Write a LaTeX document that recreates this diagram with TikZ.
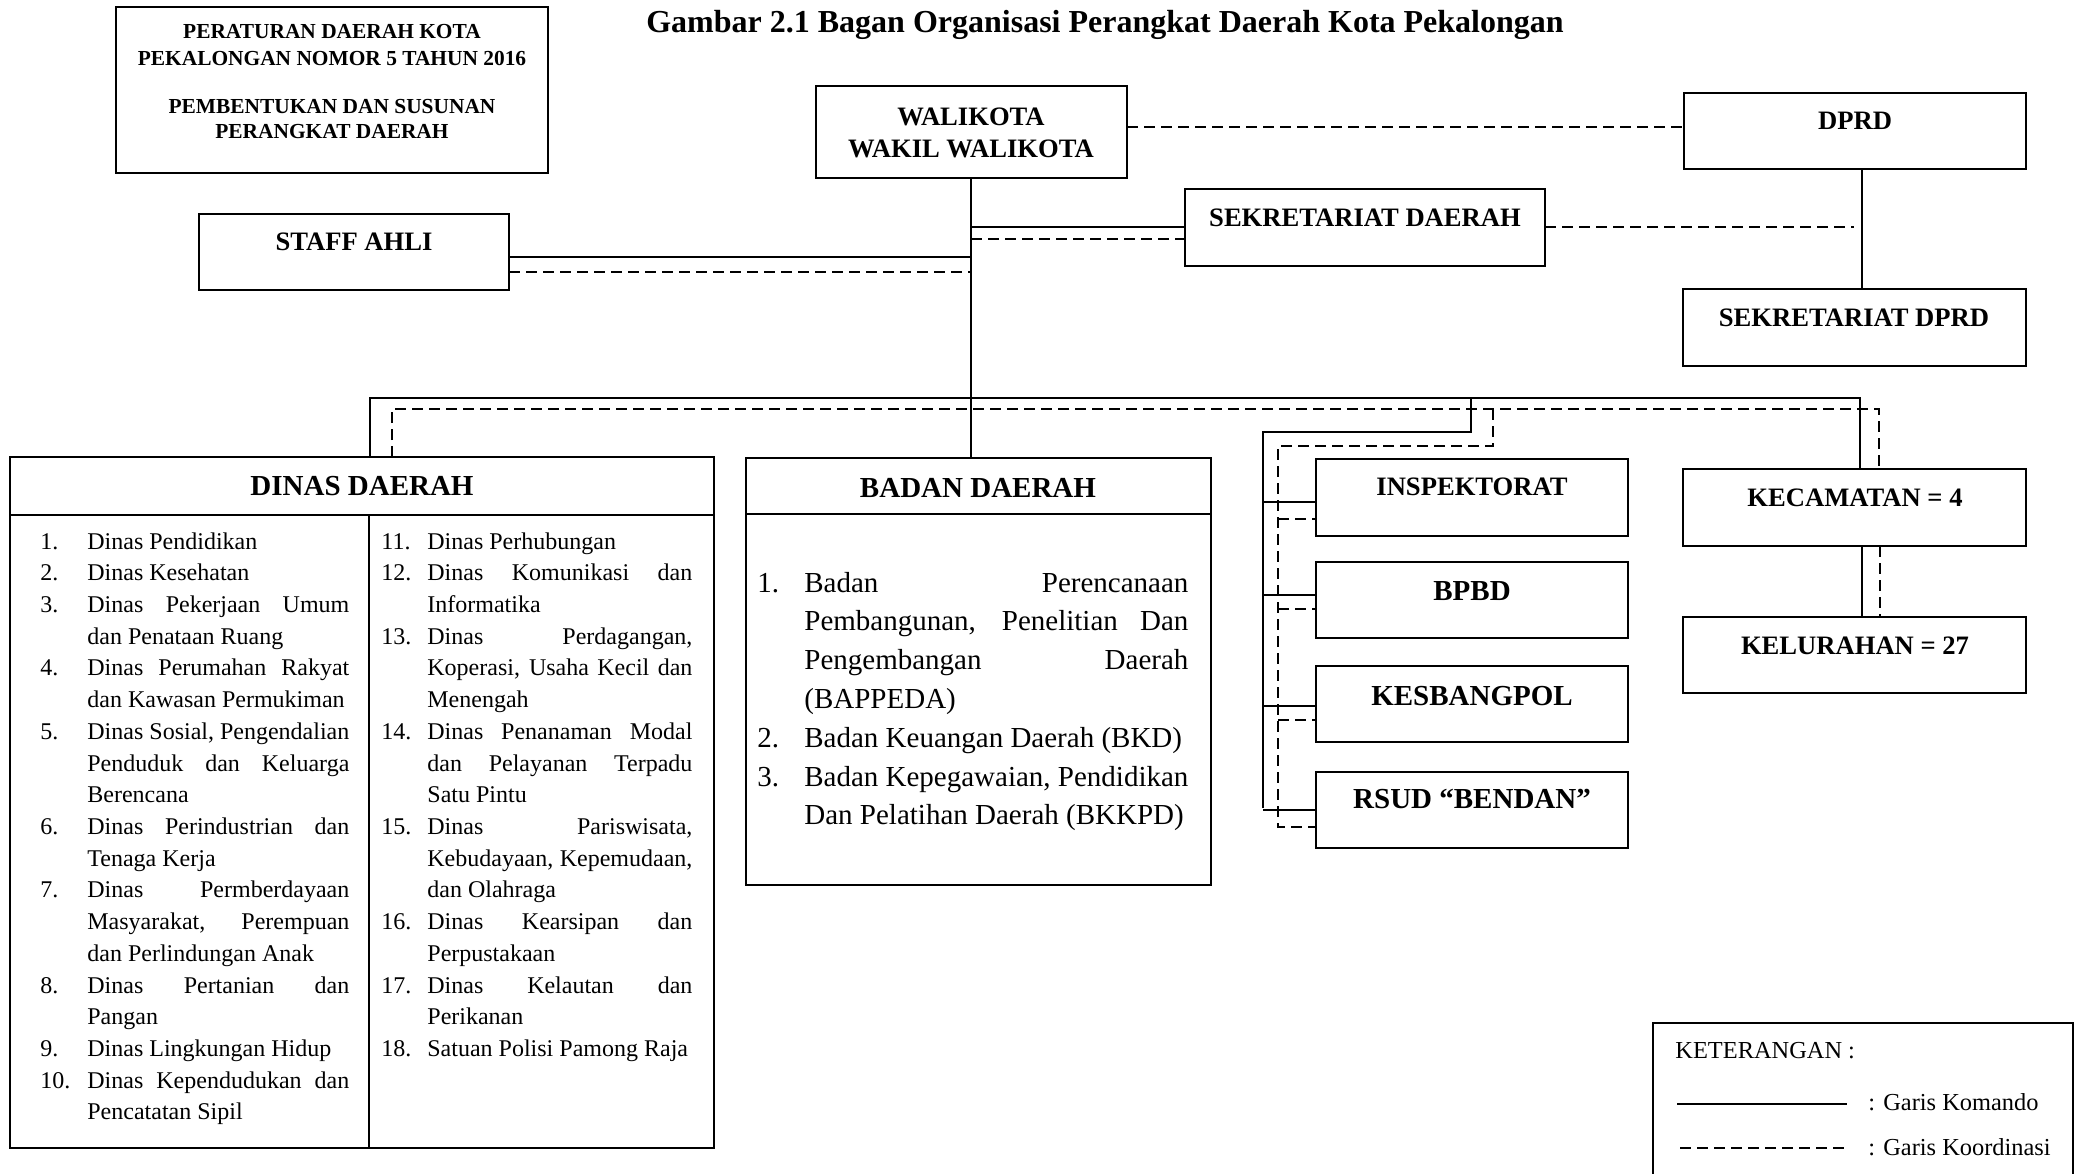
\documentclass[tikz,border=0pt]{standalone}
\usepackage{fontspec}
\setmainfont{Liberation Serif}
\usetikzlibrary{fit}
\tikzset{
  box/.style={draw, line width=1pt, inner sep=0pt, outer sep=0pt},
  boxline/.style={line width=1pt},
  cline/.style={line width=0.9pt},
  dline/.style={line width=0.9pt, dash pattern=on 5.5pt off 3pt},
  txt/.style={inner sep=0pt, anchor=base},
  fsmall/.style={font=\fontsize{10.7pt}{12pt}\selectfont\bfseries},
  fmid/.style={font=\fontsize{13.3pt}{15pt}\selectfont\bfseries},
  fbig/.style={font=\fontsize{14.5pt}{17pt}\selectfont\bfseries},
  ftitle/.style={font=\fontsize{16pt}{19pt}\selectfont\bfseries},
  flist/.style={font=\fontsize{12pt}{14pt}\selectfont},
  fbadan/.style={font=\fontsize{14.5pt}{17pt}\selectfont},
  fleg/.style={font=\fontsize{12.2pt}{14pt}\selectfont}
}
\newcommand\mkbox[5]{\node[box, fit={(#2,#3) (#4,#5)}] (#1) {};}
\begin{document}
\begin{tikzpicture}[x=0.5pt,y=-0.5pt]
\useasboundingbox (0,0) rectangle (2075,1173);

% title
\node[txt, ftitle] (title) at (1105,32) {Gambar 2.1 Bagan Organisasi Perangkat Daerah Kota Pekalongan};

% boxes
\mkbox{perda}{116}{7}{548}{173}
\mkbox{wali}{816}{86}{1127}{178}
\mkbox{dprd}{1684}{93}{2026}{169}
\mkbox{sekda}{1185}{189}{1545}{266}
\mkbox{sekdprd}{1683}{289}{2026}{366}
\mkbox{staff}{199}{214}{509}{290}
\mkbox{dinas}{10}{457}{714}{1148}
\mkbox{badan}{746}{458}{1211}{885}
\mkbox{insp}{1316}{459}{1628}{536}
\mkbox{bpbd}{1316}{562}{1628}{638}
\mkbox{kesb}{1316}{666}{1628}{742}
\mkbox{rsud}{1316}{772}{1628}{848}
\mkbox{kec}{1683}{469}{2026}{546}
\mkbox{kel}{1683}{617}{2026}{693}
\mkbox{leg}{1653}{1023}{2073}{1195}

% header lines and divider
\draw[boxline] (dinas.west |- 0,515) -- (dinas.east |- 0,515);
\draw[boxline] (369,515) -- (dinas.south -| 369,0);
\draw[boxline] (badan.west |- 0,514) -- (badan.east |- 0,514);

% box texts
\node[txt, fsmall] (p1) at (332,38) {PERATURAN DAERAH KOTA};
\node[txt, fsmall] (p2) at (332,65) {PEKALONGAN NOMOR 5 TAHUN 2016};
\node[txt, fsmall] (p3) at (332,113) {PEMBENTUKAN DAN SUSUNAN};
\node[txt, fsmall] (p4) at (332,138) {PERANGKAT DAERAH};
\node[txt, fmid] (w1) at (971,125) {WALIKOTA};
\node[txt, fmid] (w2) at (971,157) {WAKIL WALIKOTA};
\node[txt, fmid] (tdprd) at (1855,129) {DPRD};
\node[txt, fmid] (tsekda) at (1365,226) {SEKRETARIAT DAERAH};
\node[txt, fmid] (tsekdprd) at (1854,326) {SEKRETARIAT DPRD};
\node[txt, fmid] (tstaff) at (354,250) {STAFF AHLI};
\node[txt, fmid] (tinsp) at (1472,495) {INSPEKTORAT};
\node[txt, fbig] (tbpbd) at (1472,600) {BPBD};
\node[txt, fbig] (tkesb) at (1472,705) {KESBANGPOL};
\node[txt, fbig] (trsud) at (1472,808) {RSUD “BENDAN”};
\node[txt, fmid] (tkec) at (1855,506) {KECAMATAN = 4};
\node[txt, fmid] (tkel) at (1855,654) {KELURAHAN = 27};
\node[txt, fbig] (tdinas) at (362,495) {DINAS DAERAH};
\node[txt, fbig] (tbadan) at (978,497) {BADAN DAERAH};

% dinas list left
\foreach \xn/\xt/\xj [count=\i] in {
 1./Dinas Pendidikan/l,
 2./Dinas Kesehatan/l,
 3./Dinas Pekerjaan Umum/s,
 {}/dan Penataan Ruang/l,
 4./Dinas Perumahan Rakyat/s,
 {}/dan Kawasan Permukiman/l,
 5./{Dinas Sosial, Pengendalian}/s,
 {}/Penduduk dan Keluarga/s,
 {}/Berencana/l,
 6./Dinas Perindustrian dan/s,
 {}/Tenaga Kerja/l,
 7./Dinas Permberdayaan/s,
 {}/{Masyarakat, Perempuan}/s,
 {}/dan Perlindungan Anak/l,
 8./Dinas Pertanian dan/s,
 {}/Pangan/l,
 9./Dinas Lingkungan Hidup/l,
 10./Dinas Kependudukan dan/s,
 {}/Pencatatan Sipil/l}
{
 \node[txt, anchor=base west, flist] (dl\i) at (40,{549+(\i-1)*31.72})
   {\makebox[23.5pt][l]{\xn}\makebox[131pt][\xj]{\xt}};
}

% dinas list right
\foreach \xn/\xt/\xj [count=\i] in {
 11./Dinas Perhubungan/l,
 12./Dinas Komunikasi dan/s,
 {}/Informatika/l,
 13./{Dinas Perdagangan,}/s,
 {}/{Koperasi, Usaha Kecil dan}/s,
 {}/Menengah/l,
 14./Dinas Penanaman Modal/s,
 {}/dan Pelayanan Terpadu/s,
 {}/Satu Pintu/l,
 15./{Dinas Pariswisata,}/s,
 {}/{Kebudayaan, Kepemudaan,}/s,
 {}/dan Olahraga/l,
 16./Dinas Kearsipan dan/s,
 {}/Perpustakaan/l,
 17./Dinas Kelautan dan/s,
 {}/Perikanan/l,
 18./Satuan Polisi Pamong Raja/l}
{
 \node[txt, anchor=base west, flist] (dr\i) at (381,{549+(\i-1)*31.72})
   {\makebox[23pt][l]{\xn}\makebox[132.5pt][\xj]{\xt}};
}

% badan list
\foreach \xn/\xt/\xj [count=\i] in {
 1./Badan Perencanaan/s,
 {}/{Pembangunan, Penelitian Dan}/s,
 {}/Pengembangan Daerah/s,
 {}/(BAPPEDA)/l,
 2./Badan Keuangan Daerah (BKD)/l,
 3./{Badan Kepegawaian, Pendidikan}/s,
 {}/Dan Pelatihan Daerah (BKKPD)/l}
{
 \node[txt, anchor=base west, fbadan] (bl\i) at (757,{592+(\i-1)*38.8})
   {\makebox[23.5pt][l]{\xn}\makebox[192pt][\xj]{\xt}};
}

% connectors top
\draw[dline] (wali.east |- 0,127) -- (dprd.west |- 0,127);
\draw[cline] (dprd.south -| 1862,0) -- (sekdprd.north -| 1862,0);
\coordinate (sekdaend) at (1854,227);
\draw[dline] (sekda.east |- 0,227) -- (sekdaend);
\draw[cline] (wali.south -| 971,0) -- (badan.north -| 971,0);
\draw[cline] (staff.east |- 0,257) -- (971,257);
\draw[dline] (staff.east |- 0,272) -- (971,272);
\draw[cline] (971,227) -- (sekda.west |- 0,227);
\draw[dline] (971,239) -- (sekda.west |- 0,239);

% buses
\coordinate (busL) at (370,398);
\coordinate (busR) at (1860,398);
\coordinate (dbusL) at (392,409);
\coordinate (dbusR) at (1879,409);
\draw[cline] (dinas.north -| busL) -- (busL) -- (busR) -- (kec.north -| busR);
\draw[dline] (dinas.north -| dbusL) -- (dbusL) -- (dbusR) -- (kec.north -| dbusR);

% group of four
\draw[cline] (1471,398) -- (1471,432) -- (1263,432) -- (1263,808);
\foreach \b/\yy in {insp/502, bpbd/595, kesb/706, rsud/810}
  \draw[cline] (1263,\yy) -- (\b.west |- 0,\yy);
\draw[dline] (1493,409) -- (1493,446) -- (1278,446) -- (1278,827) -- (rsud.west |- 0,827);
\foreach \b/\yy in {insp/519, bpbd/609, kesb/720}
  \draw[dline] (1278,\yy) -- (\b.west |- 0,\yy);

% kecamatan - kelurahan
\draw[cline] (kec.south -| 1862,0) -- (kel.north -| 1862,0);
\draw[dline] (kec.south -| 1880,0) -- (kel.north -| 1880,0);

% legend
\node[txt, anchor=base west, fleg] (lk) at (1675,1058) {KETERANGAN :};
\coordinate (ls1) at (1677,1104);
\coordinate (ls2) at (1847,1104);
\coordinate (ld1) at (1680,1148);
\coordinate (ld2) at (1848,1148);
\draw[line width=1pt] (ls1) -- (ls2);
\draw[dline, line width=1pt] (ld1) -- (ld2);
\node[txt, anchor=base west, fleg] (lc) at (1868,1110) {: Garis Komando};
\node[txt, anchor=base west, fleg] (lo) at (1868,1155) {: Garis Koordinasi};
\end{tikzpicture}
\end{document}
